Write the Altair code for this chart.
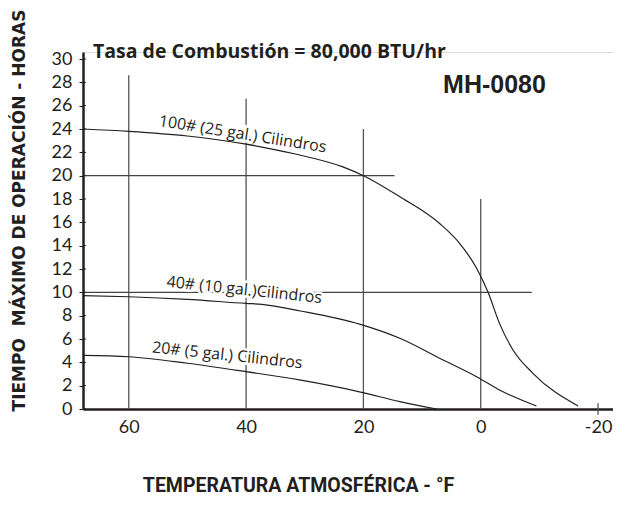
import altair as alt
import pandas as pd

# ---- data ----
temp_100 = [67.8, 60, 50, 40, 32, 23.5, 20, 13.8, 7.0, 3.6, 0.7, -1.25, -3.2, -5.5, -8.9, -16.6]
hours_100 = [24.0, 23.8, 23.4, 22.7, 21.9, 20.75, 20.0, 18.2, 15.9, 14.2, 12.06, 10.0, 7.34, 5.06, 3.06, 0.26]

temp_40 = [67.8, 60, 50, 40, 37.3, 30.7, 20.5, 13.8, 6.4, 0.7, -3.2, -9.5]
hours_40 = [9.71, 9.62, 9.4, 9.05, 8.97, 8.4, 7.25, 6.06, 4.2, 2.77, 1.63, 0.26]

temp_20 = [67.8, 60, 50, 40, 30.9, 20.3, 13.8, 7.5]
hours_20 = [4.6, 4.48, 3.92, 3.2, 2.49, 1.43, 0.63, 0.0]

x_ticks = [60, 40, 20, 0, -20]
y_ticks = list(range(0, 31, 2))

# reference lines: vertical (temperature, from hours, to hours)
v_temp = [60, 40, 20, 0, -20]
v_from = [0, 0, 0, 0, -0.5]
v_to = [28.6, 26.6, 24.0, 18.0, 0.5]
# horizontal (hours, from temp, to temp)
h_hours = [20, 10]
h_from = [67.8, 67.8]
h_to = [14.7, -8.7]

curve_labels = ["100# (25 gal.) Cilindros", "40# (10 gal.)Cilindros", "20# (5 gal.) Cilindros"]
label_temp = [40.6, 40.3, 43.2]
label_hours = [23.55, 10.2, 4.6]
label_angle = [9, 6, 6]

title_text = "Tasa de Combustión = 80,000 BTU/hr"
model_text = "MH-0080"
x_title = "TEMPERATURA ATMOSFÉRICA - °F"
y_title = "TIEMPO\u00a0 MÁXIMO DE OPERACIÓN - HORAS"

X_DOMAIN = [67.8, -22.55]
Y_DOMAIN = [0, 30.6]
W, H = 530, 357
INK = "#231f20"
SANS = "Open Sans"

rows = []
for name, ts, hs in [("100", temp_100, hours_100), ("40", temp_40, hours_40), ("20", temp_20, hours_20)]:
    for t, h in zip(ts, hs):
        rows.append({"serie": name, "T": t, "H": h})
curves = pd.DataFrame(rows)
vlines = pd.DataFrame({"T": v_temp, "H1": v_from, "H2": v_to})
hlines = pd.DataFrame({"H": h_hours, "T1": h_from, "T2": h_to})
labels = pd.DataFrame({"txt": curve_labels, "T": label_temp, "H": label_hours, "ang": label_angle})
yt = pd.DataFrame({"H": y_ticks})

xs = alt.Scale(domain=X_DOMAIN, nice=False, zero=False)
ys = alt.Scale(domain=Y_DOMAIN, nice=False, zero=False)

x_axis = alt.Axis(
    values=x_ticks, ticks=False, grid=False, domain=True, domainColor=INK, domainWidth=2.5,
    labelFont="Lato", labelFontSize=18, labelColor=INK, labelPadding=9,
    labelExpr="datum.value + ''",
    title=x_title, titleFont="Roboto", titleFontSize=19.5, titleFontWeight="bold",
    titleColor=INK, titleX=215, titleY=76, titleBaseline="middle", titleAlign="center",
)
y_axis = alt.Axis(
    values=y_ticks, ticks=True, tickSize=4, tickColor=INK, tickWidth=1, grid=False,
    domain=True, domainColor=INK, domainWidth=2.5,
    labelFont="Lato", labelFontSize=18, labelColor=INK, labelPadding=7,
    labelExpr="datum.value + ''",
    title=y_title, titleFont="DejaVu Sans", titleFontSize=17, titleFontWeight="bold",
    titleColor=INK, titleX=-64, titleY=158, titleAngle=270, titleBaseline="middle",
    titleAlign="center",
)

base_x = alt.X("T:Q", scale=xs, axis=x_axis)
base_y = alt.Y("H:Q", scale=ys, axis=y_axis)

vrule = alt.Chart(vlines).mark_rule(color="#555555", strokeWidth=1.3).encode(
    x=alt.X("T:Q", scale=xs, axis=x_axis),
    y=alt.Y("H1:Q", scale=ys, axis=y_axis),
    y2="H2:Q",
)
hrule = alt.Chart(hlines).mark_rule(color="#444444", strokeWidth=1.1).encode(
    y=alt.Y("H:Q", scale=ys, axis=y_axis),
    x=alt.X("T1:Q", scale=xs, axis=x_axis),
    x2="T2:Q",
)
inner_ticks = alt.Chart(yt).mark_rule(color=INK, strokeWidth=1).encode(
    y=alt.Y("H:Q", scale=ys, axis=y_axis),
    x=alt.value(0), x2=alt.value(3),
)

lines = alt.Chart(curves).mark_line(color=INK, strokeWidth=1.2, interpolate="monotone").encode(
    x=base_x, y=base_y, detail="serie:N",
    order=alt.Order("T:Q", sort="descending"),
)

halo = alt.Chart(labels).mark_text(
    font=SANS, fontSize=16, color="white", stroke="white", strokeWidth=5,
    align="center", baseline="middle",
).encode(x=base_x, y=base_y, text="txt:N", angle=alt.Angle("ang:Q", scale=None))
text = alt.Chart(labels).mark_text(
    font=SANS, fontSize=16, color=INK, align="center", baseline="middle",
).encode(x=base_x, y=base_y, text="txt:N", angle=alt.Angle("ang:Q", scale=None))

ann = pd.DataFrame({"txt": [title_text], "T": [66.1], "H": [30.08]})
title_mark = alt.Chart(ann).mark_text(
    font=SANS, fontSize=19.5, fontWeight="bold", color=INK, align="left", baseline="alphabetic",
).encode(x=base_x, y=base_y, text="txt:N")

ann2 = pd.DataFrame({"txt": [model_text], "T": [6.42], "H": [27.08]})
model_mark = alt.Chart(ann2).mark_text(
    font="Liberation Sans", fontSize=25, fontWeight="bold", color=INK, align="left", baseline="alphabetic",
).encode(x=base_x, y=base_y, text="txt:N")

chart = alt.layer(
    vrule, hrule, inner_ticks, halo, lines, text, title_mark, model_mark
).properties(
    width=W, height=H,
    autosize=alt.AutoSizeParams(type="none"),
    padding={"left": 75, "top": 44, "right": 0, "bottom": 88},
).configure_view(stroke=None).configure(background="white")

chart.save("out.html", embed_options={"renderer": "svg", "actions": False})
